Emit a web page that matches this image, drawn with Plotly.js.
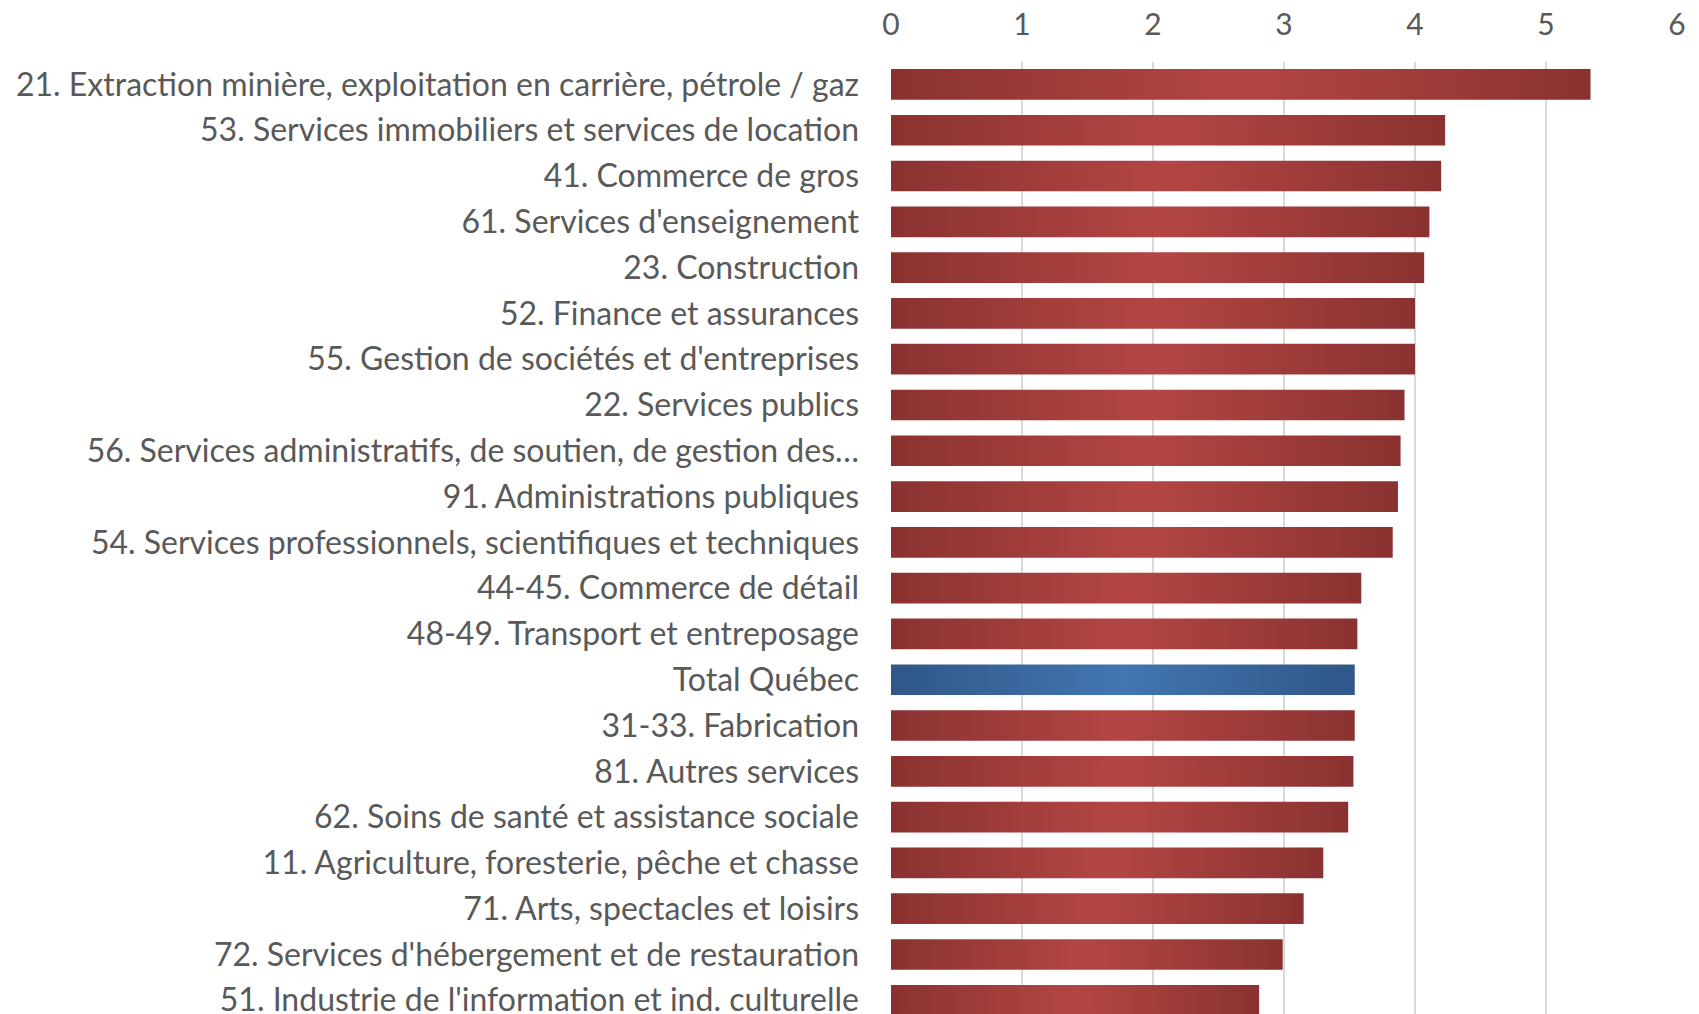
<!DOCTYPE html>
<html>
<head>
<meta charset="utf-8">
<script src="https://cdn.plot.ly/plotly-3.0.1.min.js"></script>
<style>html,body{margin:0;padding:0;background:#fff;}#chart{width:1699px;height:1014px;}</style>
</head>
<body>
<div id="chart"></div>
<script>
// Categories (top to bottom)
const industries = [
  "21. Extraction minière, exploitation en carrière, pétrole / gaz",
  "53. Services immobiliers et services de location",
  "41. Commerce de gros",
  "61. Services d'enseignement",
  "23. Construction",
  "52. Finance et assurances",
  "55. Gestion de sociétés et d'entreprises",
  "22. Services publics",
  "56. Services administratifs, de soutien, de gestion des…",
  "91. Administrations publiques",
  "54. Services professionnels, scientifiques et techniques",
  "44-45. Commerce de détail",
  "48-49. Transport et entreposage",
  "Total Québec",
  "31-33. Fabrication",
  "81. Autres services",
  "62. Soins de santé et assistance sociale",
  "11. Agriculture, foresterie, pêche et chasse",
  "71. Arts, spectacles et loisirs",
  "72. Services d'hébergement et de restauration",
  "51. Industrie de l'information et ind. culturelle"
];
// Values
const values = [5.34, 4.23, 4.20, 4.11, 4.07, 4.00, 4.00, 3.92, 3.89, 3.87, 3.83, 3.59, 3.56, 3.54, 3.54, 3.53, 3.49, 3.30, 3.15, 2.99, 2.81];
const xTicks = [0, 1, 2, 3, 4, 5, 6];

const RED = {solid: '#9f3b3a', dark: '#8a3231', light: '#b34644'};
const BLUE = {solid: '#3a659c', dark: '#2f5787', light: '#4276b1'};
const isTotal = industries.map(c => c === 'Total Québec');
const colors = isTotal.map(t => t ? BLUE.solid : RED.solid);

const trace = {
  type: 'bar',
  orientation: 'h',
  y: industries,
  x: values,
  marker: {color: colors, line: {width: 0}},
  hoverinfo: 'x+y'
};

const FONT = 'Lato, "Open Sans", "Noto Sans", sans-serif';
const layout = {
  width: 1699,
  height: 1014,
  margin: {l: 891, r: 22, t: 62, b: 0, pad: 0},
  paper_bgcolor: '#ffffff',
  plot_bgcolor: '#ffffff',
  showlegend: false,
  bargap: 0.33,
  font: {family: FONT, color: '#595959', size: 28},
  xaxis: {
    side: 'top',
    range: [0, 6],
    tickvals: xTicks,
    ticktext: xTicks.map(String),
    showgrid: true,
    gridcolor: '#d9d9d9',
    gridwidth: 1.5,
    zeroline: false,
    showline: false,
    ticks: '',
    ticklabelstandoff: 20,
    tickfont: {family: FONT, size: 30, color: '#595959'}
  },
  yaxis: {
    type: 'category',
    range: [20.3, -0.49],
    showgrid: false,
    zeroline: false,
    showline: false,
    ticks: '',
    ticklabelstandoff: 31,
    tickfont: {family: FONT, size: 32, color: '#595959'},
    automargin: false
  }
};

Plotly.newPlot('chart', [trace], layout, {displayModeBar: false, staticPlot: true}).then(gd => {
  const svg = gd.querySelector('.main-svg');
  let defs = svg.querySelector('defs');
  const ns = 'http://www.w3.org/2000/svg';
  function addGrad(id, c) {
    const g = document.createElementNS(ns, 'linearGradient');
    g.setAttribute('id', id);
    g.setAttribute('x1', '0'); g.setAttribute('y1', '0');
    g.setAttribute('x2', '1'); g.setAttribute('y2', '0');
    [[0, c.dark], [0.5, c.light], [1, c.dark]].forEach(([o, col]) => {
      const s = document.createElementNS(ns, 'stop');
      s.setAttribute('offset', o);
      s.setAttribute('stop-color', col);
      g.appendChild(s);
    });
    defs.appendChild(g);
  }
  addGrad('gradRed', RED);
  addGrad('gradBlue', BLUE);
  const paths = gd.querySelectorAll('.barlayer .point path');
  paths.forEach((p, i) => {
    p.style.fill = isTotal[i] ? 'url(#gradBlue)' : 'url(#gradRed)';
  });
});
</script>
</body>
</html>
